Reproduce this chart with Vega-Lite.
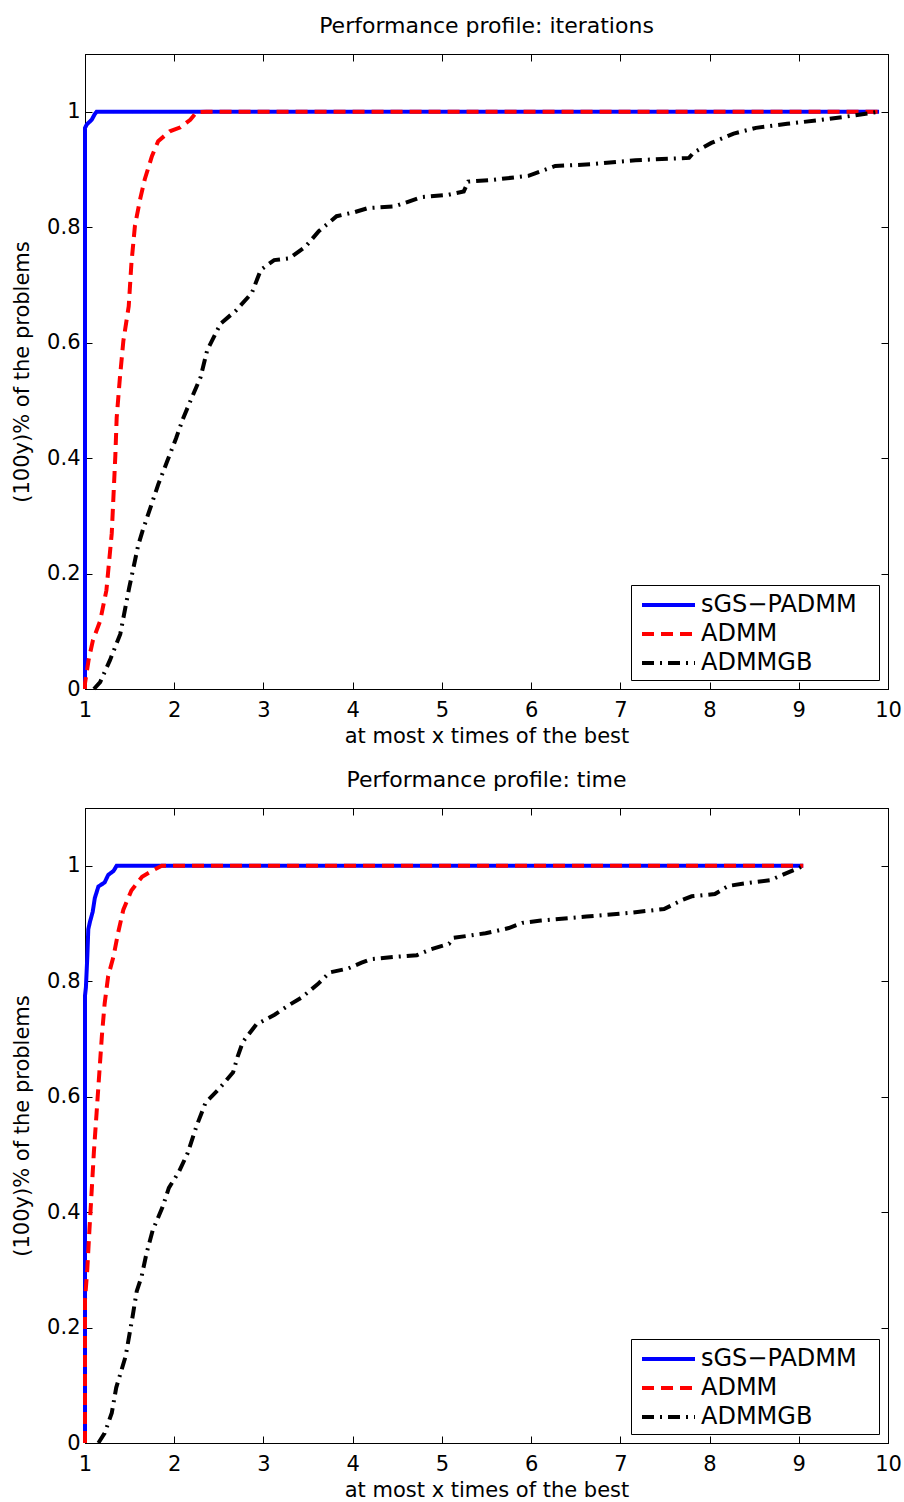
{
  "$schema": "https://vega.github.io/schema/vega-lite/v6.json",
  "background": "white",
  "padding": {"left": 11, "top": 14, "right": 10, "bottom": 5},
  "spacing": 21,
  "config": {
    "font": "DejaVu Sans",
    "view": {"stroke": "black", "strokeWidth": 1},
    "axis": {
      "domainColor": "black", "domainWidth": 1, "tickColor": "black", "tickWidth": 1,
      "labelColor": "black", "titleColor": "black",
      "labelFont": "DejaVu Sans", "titleFont": "DejaVu Sans",
      "labelFontSize": 21, "titleFontSize": 21, "titleFontWeight": "normal",
      "grid": false, "tickSize": -7, "labelFlush": false, "labelOverlap": false
    },
    "title": {"font": "DejaVu Sans", "fontSize": 22, "fontWeight": "normal", "color": "black", "offset": 16}
  },
  "datasets": {
    "iter": [
      {"s": "sGS−PADMM", "i": 0, "x": 1, "y": 0},
      {"s": "sGS−PADMM", "i": 1, "x": 1, "y": 0.972},
      {"s": "sGS−PADMM", "i": 2, "x": 1.02, "y": 0.978},
      {"s": "sGS−PADMM", "i": 3, "x": 1.075, "y": 0.986},
      {"s": "sGS−PADMM", "i": 4, "x": 1.11, "y": 0.996},
      {"s": "sGS−PADMM", "i": 5, "x": 1.13, "y": 1},
      {"s": "sGS−PADMM", "i": 6, "x": 9.9, "y": 1},
      {"s": "ADMM", "i": 0, "x": 1, "y": 0},
      {"s": "ADMM", "i": 1, "x": 1, "y": 0.01},
      {"s": "ADMM", "i": 2, "x": 1.04, "y": 0.05},
      {"s": "ADMM", "i": 3, "x": 1.09, "y": 0.085},
      {"s": "ADMM", "i": 4, "x": 1.17, "y": 0.118},
      {"s": "ADMM", "i": 5, "x": 1.24, "y": 0.171},
      {"s": "ADMM", "i": 6, "x": 1.3, "y": 0.27},
      {"s": "ADMM", "i": 7, "x": 1.34, "y": 0.404},
      {"s": "ADMM", "i": 8, "x": 1.355, "y": 0.47},
      {"s": "ADMM", "i": 9, "x": 1.39, "y": 0.537},
      {"s": "ADMM", "i": 10, "x": 1.43, "y": 0.603},
      {"s": "ADMM", "i": 11, "x": 1.49, "y": 0.663},
      {"s": "ADMM", "i": 12, "x": 1.52, "y": 0.737},
      {"s": "ADMM", "i": 13, "x": 1.56, "y": 0.803},
      {"s": "ADMM", "i": 14, "x": 1.62, "y": 0.85},
      {"s": "ADMM", "i": 15, "x": 1.67, "y": 0.883},
      {"s": "ADMM", "i": 16, "x": 1.75, "y": 0.923},
      {"s": "ADMM", "i": 17, "x": 1.82, "y": 0.949},
      {"s": "ADMM", "i": 18, "x": 1.95, "y": 0.966},
      {"s": "ADMM", "i": 19, "x": 2.07, "y": 0.973},
      {"s": "ADMM", "i": 20, "x": 2.18, "y": 0.986},
      {"s": "ADMM", "i": 21, "x": 2.25, "y": 0.999},
      {"s": "ADMM", "i": 22, "x": 2.36, "y": 1},
      {"s": "ADMM", "i": 23, "x": 9.9, "y": 1},
      {"s": "ADMMGB", "i": 0, "x": 1.1, "y": 0},
      {"s": "ADMMGB", "i": 1, "x": 1.17, "y": 0.012},
      {"s": "ADMMGB", "i": 2, "x": 1.28, "y": 0.05},
      {"s": "ADMMGB", "i": 3, "x": 1.395, "y": 0.095},
      {"s": "ADMMGB", "i": 4, "x": 1.495, "y": 0.175},
      {"s": "ADMMGB", "i": 5, "x": 1.595, "y": 0.248},
      {"s": "ADMMGB", "i": 6, "x": 1.645, "y": 0.274},
      {"s": "ADMMGB", "i": 7, "x": 1.72, "y": 0.308},
      {"s": "ADMMGB", "i": 8, "x": 1.82, "y": 0.354},
      {"s": "ADMMGB", "i": 9, "x": 1.92, "y": 0.394},
      {"s": "ADMMGB", "i": 10, "x": 2.02, "y": 0.434},
      {"s": "ADMMGB", "i": 11, "x": 2.095, "y": 0.467},
      {"s": "ADMMGB", "i": 12, "x": 2.195, "y": 0.504},
      {"s": "ADMMGB", "i": 13, "x": 2.295, "y": 0.54},
      {"s": "ADMMGB", "i": 14, "x": 2.37, "y": 0.587},
      {"s": "ADMMGB", "i": 15, "x": 2.52, "y": 0.633},
      {"s": "ADMMGB", "i": 16, "x": 2.695, "y": 0.656},
      {"s": "ADMMGB", "i": 17, "x": 2.87, "y": 0.686},
      {"s": "ADMMGB", "i": 18, "x": 2.97, "y": 0.726},
      {"s": "ADMMGB", "i": 19, "x": 3.12, "y": 0.743},
      {"s": "ADMMGB", "i": 20, "x": 3.29, "y": 0.746},
      {"s": "ADMMGB", "i": 21, "x": 3.47, "y": 0.766},
      {"s": "ADMMGB", "i": 22, "x": 3.62, "y": 0.793},
      {"s": "ADMMGB", "i": 23, "x": 3.82, "y": 0.819},
      {"s": "ADMMGB", "i": 24, "x": 4.02, "y": 0.826},
      {"s": "ADMMGB", "i": 25, "x": 4.17, "y": 0.833},
      {"s": "ADMMGB", "i": 26, "x": 4.47, "y": 0.836},
      {"s": "ADMMGB", "i": 27, "x": 4.77, "y": 0.852},
      {"s": "ADMMGB", "i": 28, "x": 5.07, "y": 0.856},
      {"s": "ADMMGB", "i": 29, "x": 5.245, "y": 0.862},
      {"s": "ADMMGB", "i": 30, "x": 5.295, "y": 0.879},
      {"s": "ADMMGB", "i": 31, "x": 5.57, "y": 0.882},
      {"s": "ADMMGB", "i": 32, "x": 5.97, "y": 0.889},
      {"s": "ADMMGB", "i": 33, "x": 6.095, "y": 0.896},
      {"s": "ADMMGB", "i": 34, "x": 6.27, "y": 0.906},
      {"s": "ADMMGB", "i": 35, "x": 6.67, "y": 0.909},
      {"s": "ADMMGB", "i": 36, "x": 7.17, "y": 0.916},
      {"s": "ADMMGB", "i": 37, "x": 7.77, "y": 0.92},
      {"s": "ADMMGB", "i": 38, "x": 7.82, "y": 0.929},
      {"s": "ADMMGB", "i": 39, "x": 8.02, "y": 0.946},
      {"s": "ADMMGB", "i": 40, "x": 8.27, "y": 0.962},
      {"s": "ADMMGB", "i": 41, "x": 8.52, "y": 0.972},
      {"s": "ADMMGB", "i": 42, "x": 8.87, "y": 0.979},
      {"s": "ADMMGB", "i": 43, "x": 9.2, "y": 0.985},
      {"s": "ADMMGB", "i": 44, "x": 9.6, "y": 0.993},
      {"s": "ADMMGB", "i": 45, "x": 9.9, "y": 1}
    ],
    "time": [
      {"s": "sGS−PADMM", "i": 0, "x": 1, "y": 0},
      {"s": "sGS−PADMM", "i": 1, "x": 1, "y": 0.775},
      {"s": "sGS−PADMM", "i": 2, "x": 1.01, "y": 0.789},
      {"s": "sGS−PADMM", "i": 3, "x": 1.026, "y": 0.843},
      {"s": "sGS−PADMM", "i": 4, "x": 1.037, "y": 0.89},
      {"s": "sGS−PADMM", "i": 5, "x": 1.056, "y": 0.903},
      {"s": "sGS−PADMM", "i": 6, "x": 1.086, "y": 0.92},
      {"s": "sGS−PADMM", "i": 7, "x": 1.11, "y": 0.944},
      {"s": "sGS−PADMM", "i": 8, "x": 1.15, "y": 0.964},
      {"s": "sGS−PADMM", "i": 9, "x": 1.22, "y": 0.971},
      {"s": "sGS−PADMM", "i": 10, "x": 1.26, "y": 0.984},
      {"s": "sGS−PADMM", "i": 11, "x": 1.32, "y": 0.991},
      {"s": "sGS−PADMM", "i": 12, "x": 1.355, "y": 1},
      {"s": "sGS−PADMM", "i": 13, "x": 9.05, "y": 1},
      {"s": "ADMM", "i": 0, "x": 1, "y": 0},
      {"s": "ADMM", "i": 1, "x": 1, "y": 0.248},
      {"s": "ADMM", "i": 2, "x": 1.026, "y": 0.302},
      {"s": "ADMM", "i": 3, "x": 1.05, "y": 0.37},
      {"s": "ADMM", "i": 4, "x": 1.075, "y": 0.437},
      {"s": "ADMM", "i": 5, "x": 1.1, "y": 0.505},
      {"s": "ADMM", "i": 6, "x": 1.13, "y": 0.572},
      {"s": "ADMM", "i": 7, "x": 1.16, "y": 0.64},
      {"s": "ADMM", "i": 8, "x": 1.19, "y": 0.707},
      {"s": "ADMM", "i": 9, "x": 1.22, "y": 0.761},
      {"s": "ADMM", "i": 10, "x": 1.26, "y": 0.809},
      {"s": "ADMM", "i": 11, "x": 1.32, "y": 0.843},
      {"s": "ADMM", "i": 12, "x": 1.37, "y": 0.883},
      {"s": "ADMM", "i": 13, "x": 1.43, "y": 0.924},
      {"s": "ADMM", "i": 14, "x": 1.52, "y": 0.957},
      {"s": "ADMM", "i": 15, "x": 1.64, "y": 0.981},
      {"s": "ADMM", "i": 16, "x": 1.75, "y": 0.991},
      {"s": "ADMM", "i": 17, "x": 1.86, "y": 1},
      {"s": "ADMM", "i": 18, "x": 9.05, "y": 1},
      {"s": "ADMMGB", "i": 0, "x": 1.15, "y": 0},
      {"s": "ADMMGB", "i": 1, "x": 1.22, "y": 0.017},
      {"s": "ADMMGB", "i": 2, "x": 1.3, "y": 0.052},
      {"s": "ADMMGB", "i": 3, "x": 1.35, "y": 0.096},
      {"s": "ADMMGB", "i": 4, "x": 1.455, "y": 0.15},
      {"s": "ADMMGB", "i": 5, "x": 1.53, "y": 0.216},
      {"s": "ADMMGB", "i": 6, "x": 1.58, "y": 0.263},
      {"s": "ADMMGB", "i": 7, "x": 1.635, "y": 0.289},
      {"s": "ADMMGB", "i": 8, "x": 1.69, "y": 0.329},
      {"s": "ADMMGB", "i": 9, "x": 1.76, "y": 0.369},
      {"s": "ADMMGB", "i": 10, "x": 1.87, "y": 0.409},
      {"s": "ADMMGB", "i": 11, "x": 1.94, "y": 0.442},
      {"s": "ADMMGB", "i": 12, "x": 2.05, "y": 0.469},
      {"s": "ADMMGB", "i": 13, "x": 2.15, "y": 0.502},
      {"s": "ADMMGB", "i": 14, "x": 2.25, "y": 0.549},
      {"s": "ADMMGB", "i": 15, "x": 2.35, "y": 0.589},
      {"s": "ADMMGB", "i": 16, "x": 2.51, "y": 0.615},
      {"s": "ADMMGB", "i": 17, "x": 2.66, "y": 0.642},
      {"s": "ADMMGB", "i": 18, "x": 2.71, "y": 0.669},
      {"s": "ADMMGB", "i": 19, "x": 2.77, "y": 0.695},
      {"s": "ADMMGB", "i": 20, "x": 2.92, "y": 0.725},
      {"s": "ADMMGB", "i": 21, "x": 3.125, "y": 0.742},
      {"s": "ADMMGB", "i": 22, "x": 3.28, "y": 0.758},
      {"s": "ADMMGB", "i": 23, "x": 3.43, "y": 0.772},
      {"s": "ADMMGB", "i": 24, "x": 3.61, "y": 0.795},
      {"s": "ADMMGB", "i": 25, "x": 3.74, "y": 0.815},
      {"s": "ADMMGB", "i": 26, "x": 3.95, "y": 0.822},
      {"s": "ADMMGB", "i": 27, "x": 4.1, "y": 0.832},
      {"s": "ADMMGB", "i": 28, "x": 4.2, "y": 0.838},
      {"s": "ADMMGB", "i": 29, "x": 4.46, "y": 0.842},
      {"s": "ADMMGB", "i": 30, "x": 4.72, "y": 0.845},
      {"s": "ADMMGB", "i": 31, "x": 4.87, "y": 0.855},
      {"s": "ADMMGB", "i": 32, "x": 5.08, "y": 0.865},
      {"s": "ADMMGB", "i": 33, "x": 5.13, "y": 0.875},
      {"s": "ADMMGB", "i": 34, "x": 5.49, "y": 0.883},
      {"s": "ADMMGB", "i": 35, "x": 5.75, "y": 0.892},
      {"s": "ADMMGB", "i": 36, "x": 5.9, "y": 0.901},
      {"s": "ADMMGB", "i": 37, "x": 6.11, "y": 0.905},
      {"s": "ADMMGB", "i": 38, "x": 6.62, "y": 0.912},
      {"s": "ADMMGB", "i": 39, "x": 7.08, "y": 0.918},
      {"s": "ADMMGB", "i": 40, "x": 7.49, "y": 0.925},
      {"s": "ADMMGB", "i": 41, "x": 7.7, "y": 0.941},
      {"s": "ADMMGB", "i": 42, "x": 7.8, "y": 0.947},
      {"s": "ADMMGB", "i": 43, "x": 8.06, "y": 0.951},
      {"s": "ADMMGB", "i": 44, "x": 8.21, "y": 0.965},
      {"s": "ADMMGB", "i": 45, "x": 8.47, "y": 0.971},
      {"s": "ADMMGB", "i": 46, "x": 8.68, "y": 0.975},
      {"s": "ADMMGB", "i": 47, "x": 8.83, "y": 0.985},
      {"s": "ADMMGB", "i": 48, "x": 9.0, "y": 0.996},
      {"s": "ADMMGB", "i": 49, "x": 9.05, "y": 1}
    ]
  },
  "vconcat": [
    {
      "title": "Performance profile: iterations",
      "width": 803, "height": 635,
      "data": {"name": "iter"},
      "layer": [
        {
          "mark": {"type": "line", "strokeWidth": 4},
          "encoding": {
            "x": {"field": "x", "type": "quantitative", "scale": {"domain": [1, 10], "nice": false}, "axis": {"values": [1,2,3,4,5,6,7,8,9,10], "format": "d", "title": "at most x times of the best", "labelPadding": 17, "titlePadding": 5}},
            "y": {"field": "y", "type": "quantitative", "scale": {"domain": [0, 1.1], "nice": false}, "axis": {"values": [0,0.2,0.4,0.6,0.8,1], "format": "~g", "title": "(100y)% of the problems", "labelPadding": 12, "titlePadding": 14}},
            "color": {"field": "s", "type": "nominal", "scale": {"domain": ["sGS−PADMM","ADMM","ADMMGB"], "range": ["#0000ff","#ff0000","#000000"]},
              "legend": {"title": "\u00a0", "titleOrient": "right", "titleFontSize": 10, "titlePadding": 18, "orient": "bottom-right", "offset": 9, "strokeColor": "black", "fillColor": "white", "padding": 4.5, "symbolType": "M-0.679,0H3.321", "symbolSize": 702, "symbolStrokeWidth": 4, "labelFont": "DejaVu Sans", "labelFontSize": 24, "labelColor": "black", "labelOffset": 34.5, "rowPadding": 1}},
            "strokeDash": {"field": "s", "type": "nominal", "scale": {"domain": ["sGS−PADMM","ADMM","ADMMGB"], "range": [[1,0],[12,7],[12,6,2,6]]},
              "legend": {"title": "\u00a0", "titleOrient": "right", "titleFontSize": 10, "titlePadding": 18, "orient": "bottom-right", "offset": 9, "strokeColor": "black", "fillColor": "white", "padding": 4.5, "symbolType": "M-0.679,0H3.321", "symbolSize": 702, "symbolStrokeWidth": 4, "labelFont": "DejaVu Sans", "labelFontSize": 24, "labelColor": "black", "labelOffset": 34.5, "rowPadding": 1}},
            "order": {"field": "i", "type": "quantitative"}
          }
        },
        {
          "mark": {"type": "line", "strokeOpacity": 0},
          "encoding": {
            "x": {"field": "x", "type": "quantitative", "axis": {"orient": "top", "values": [1,2,3,4,5,6,7,8,9,10], "labels": false, "title": null}},
            "y": {"field": "y", "type": "quantitative", "axis": {"orient": "right", "values": [0,0.2,0.4,0.6,0.8,1], "labels": false, "title": null}},
            "detail": {"field": "s"},
            "order": {"field": "i", "type": "quantitative"}
          }
        }
      ],
      "resolve": {"axis": {"x": "independent", "y": "independent"}}
    },
    {
      "title": "Performance profile: time",
      "width": 803, "height": 635,
      "data": {"name": "time"},
      "layer": [
        {
          "mark": {"type": "line", "strokeWidth": 4},
          "encoding": {
            "x": {"field": "x", "type": "quantitative", "scale": {"domain": [1, 10], "nice": false}, "axis": {"values": [1,2,3,4,5,6,7,8,9,10], "format": "d", "title": "at most x times of the best", "labelPadding": 17, "titlePadding": 5}},
            "y": {"field": "y", "type": "quantitative", "scale": {"domain": [0, 1.1], "nice": false}, "axis": {"values": [0,0.2,0.4,0.6,0.8,1], "format": "~g", "title": "(100y)% of the problems", "labelPadding": 12, "titlePadding": 14}},
            "color": {"field": "s", "type": "nominal", "scale": {"domain": ["sGS−PADMM","ADMM","ADMMGB"], "range": ["#0000ff","#ff0000","#000000"]},
              "legend": {"title": "\u00a0", "titleOrient": "right", "titleFontSize": 10, "titlePadding": 18, "orient": "bottom-right", "offset": 9, "strokeColor": "black", "fillColor": "white", "padding": 4.5, "symbolType": "M-0.679,0H3.321", "symbolSize": 702, "symbolStrokeWidth": 4, "labelFont": "DejaVu Sans", "labelFontSize": 24, "labelColor": "black", "labelOffset": 34.5, "rowPadding": 1}},
            "strokeDash": {"field": "s", "type": "nominal", "scale": {"domain": ["sGS−PADMM","ADMM","ADMMGB"], "range": [[1,0],[12,7],[12,6,2,6]]},
              "legend": {"title": "\u00a0", "titleOrient": "right", "titleFontSize": 10, "titlePadding": 18, "orient": "bottom-right", "offset": 9, "strokeColor": "black", "fillColor": "white", "padding": 4.5, "symbolType": "M-0.679,0H3.321", "symbolSize": 702, "symbolStrokeWidth": 4, "labelFont": "DejaVu Sans", "labelFontSize": 24, "labelColor": "black", "labelOffset": 34.5, "rowPadding": 1}},
            "order": {"field": "i", "type": "quantitative"}
          }
        },
        {
          "mark": {"type": "line", "strokeOpacity": 0},
          "encoding": {
            "x": {"field": "x", "type": "quantitative", "axis": {"orient": "top", "values": [1,2,3,4,5,6,7,8,9,10], "labels": false, "title": null}},
            "y": {"field": "y", "type": "quantitative", "axis": {"orient": "right", "values": [0,0.2,0.4,0.6,0.8,1], "labels": false, "title": null}},
            "detail": {"field": "s"},
            "order": {"field": "i", "type": "quantitative"}
          }
        }
      ],
      "resolve": {"axis": {"x": "independent", "y": "independent"}}
    }
  ],
  "resolve": {"scale": {"color": "independent", "strokeDash": "independent"}}
}
